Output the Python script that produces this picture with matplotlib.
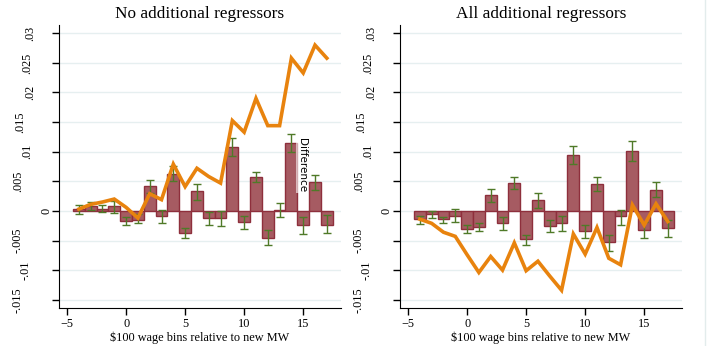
import numpy as np
import matplotlib.pyplot as plt
from matplotlib.lines import Line2D

plt.rcParams['font.family'] = ['Liberation Serif', 'DejaVu Serif']

# wage bins relative to new minimum wage
bins = np.arange(-4, 18)

# No additional regressors
bars_no = [0.0003, 0.0008, 0.0003, 0.0008, -0.00175, -0.0015, 0.0042, -0.0009,
           0.0063, -0.0038, 0.0033, -0.0012, -0.0012, 0.01075, -0.0019, 0.0057,
           -0.0045, 0.0001, 0.0114, -0.0024, 0.0048, -0.0023]
lo_no = [-0.0005, 0.0002, -0.0002, -0.0004, -0.0024, -0.0021, 0.0030, -0.0021,
         0.0051, -0.0046, 0.0019, -0.0023, -0.0026, 0.0092, -0.0030, 0.0048,
         -0.0058, -0.0010, 0.0099, -0.0039, 0.0035, -0.0038]
hi_no = [0.0010, 0.0015, 0.0010, 0.0016, -0.0010, -0.0006, 0.0052, 0.0001,
         0.0075, -0.0029, 0.0045, -0.0002, 0.0000, 0.0123, -0.0009, 0.0066,
         -0.0032, 0.0013, 0.0130, -0.0010, 0.0061, -0.0007]
line_no = [0.0003, 0.0011, 0.0015, 0.0020, 0.0006, -0.0012, 0.0029, 0.0019,
           0.0079, 0.0041, 0.0072, 0.0058, 0.0047, 0.01525, 0.0133, 0.0190,
           0.0144, 0.0144, 0.0258, 0.0233, 0.0280, 0.0258]

# All additional regressors
bars_all = [-0.0014, -0.00056, -0.0014, -0.0008, -0.0031, -0.0028, 0.00265, -0.0021,
            0.0047, -0.0048, 0.0018, -0.0026, -0.0021, 0.0095, -0.0034, 0.0045,
            -0.0053, -0.0009, 0.0101, -0.0033, 0.0035, -0.0029]
lo_all = [-0.00225, -0.0012, -0.0021, -0.0019, -0.0038, -0.0034, 0.0015, -0.0033,
          0.0037, -0.0057, 0.0005, -0.0036, -0.0034, 0.0080, -0.0045, 0.0033,
          -0.0067, -0.0023, 0.0084, -0.0046, 0.0023, -0.0044]
hi_all = [-0.0008, 0.0000, -0.0010, 0.0003, -0.0023, -0.0021, 0.0037, -0.0010,
          0.0057, -0.0040, 0.0030, -0.0015, -0.0009, 0.0110, -0.0024, 0.0057,
          -0.0040, 0.0001, 0.0118, -0.0019, 0.0048, -0.0015]
line_all = [-0.0014, -0.0021, -0.0036, -0.0043, -0.0074, -0.0104, -0.0077, -0.0100,
            -0.0054, -0.0101, -0.0085, -0.0110, -0.0134, -0.0039, -0.0073, -0.0028,
            -0.0080, -0.0091, 0.0010, -0.0024, 0.0012, -0.0018]

yticks = [-0.015, -0.01, -0.005, 0, 0.005, 0.01, 0.015, 0.02, 0.025, 0.03]
ytick_labels = ['-.015', '-.01', '-.005', '0', '.005', '.01', '.015', '.02', '.025', '.03']
xticks = [-5, 0, 5, 10, 15]

# stata puts the rotated labels at uneven distances from the axis (pixels)
label_off = [-41, -33, -41, -13, -41, -32, -39, -29, -32, -29]

W, H = 708, 346
AX_W, AX_H = 282, 283
fig = plt.figure(figsize=(W / 100, H / 100), dpi=100)

panels = [
    ('No additional regressors', bars_no, lo_no, hi_no, line_no, 59),
    ('All additional regressors', bars_all, lo_all, hi_all, line_all, 400),
]

for title, b, lo, hi, ln, x0 in panels:
    ax = fig.add_axes([x0 / W, (H - 308) / H, AX_W / W, AX_H / H])
    b = np.array(b)
    ax.bar(bins, b, width=1.0, color='#a65b62', edgecolor='#8e2f3c', linewidth=1, zorder=2)
    ax.errorbar(bins, b, yerr=[b - np.array(lo), np.array(hi) - b], fmt='none',
                ecolor='#4f7a28', elinewidth=1, capsize=3, capthick=1, zorder=3)
    ax.plot(bins, ln, color='#e8830e', lw=2.6, zorder=4, solid_joinstyle='miter')
    ax.set_xlim(-5.68, 18.2)
    ax.set_ylim(-0.0164, 0.0314)
    ax.set_xticks(xticks)
    ax.set_yticks(yticks)
    ax.set_yticklabels([])
    for yv, lab, off in zip(yticks, ytick_labels, label_off):
        ax.text(off / AX_W, yv, lab, transform=ax.get_yaxis_transform(),
                rotation=90, ha='center', va='center', fontsize=8.8)
    ax.tick_params(labelsize=8.8, length=5, width=1, direction='out', pad=2)
    ax.yaxis.grid(True, color='#e6eff0', lw=1)
    ax.set_axisbelow(True)
    for s in ['top', 'right']:
        ax.spines[s].set_visible(False)
    ax.set_title(title, fontsize=12.4, pad=5)
    ax.set_xlabel(r'\$100 wage bins relative to new MW', fontsize=8.8, labelpad=1)

fig.text(301.5 / W, 1 - 165 / H, 'Difference', rotation=-90, fontsize=7.5,
         family='DejaVu Sans', ha='center', va='center', zorder=5,
         bbox=dict(facecolor='white', edgecolor='none', pad=0.5, alpha=0.6))

# faint frame line at the right edge of the image
fig.add_artist(Line2D([704.5 / W, 704.5 / W], [0, 1], color='#e3ecec', lw=1))

fig.savefig('out.png', dpi=100)
